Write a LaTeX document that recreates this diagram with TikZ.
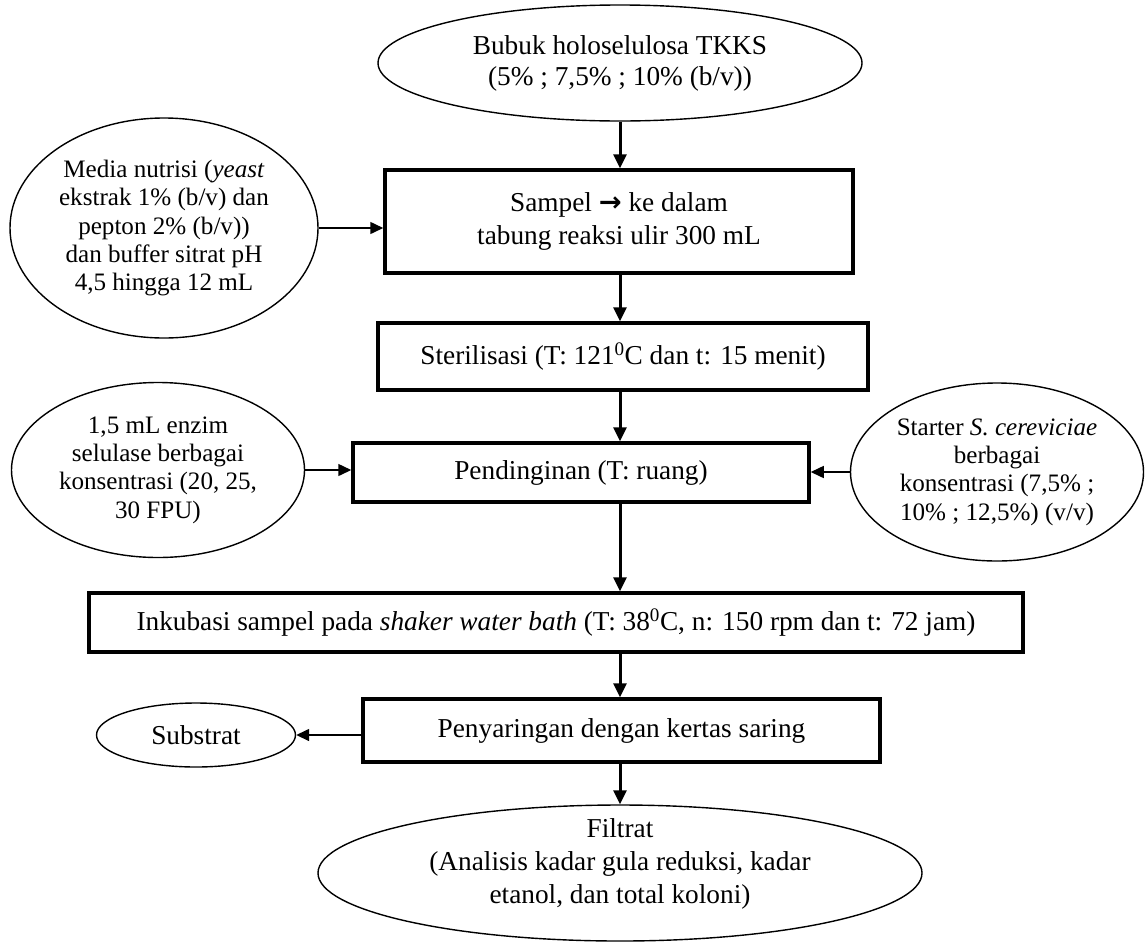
\documentclass[tikz,border=0pt]{standalone}
\usepackage{fontspec}
\setmainfont{Liberation Serif}
\newfontfamily\arrowfont{DejaVu Sans}
\usetikzlibrary{shapes.geometric,arrows.meta,calc}

\tikzset{
  big/.style={font=\fontsize{27.3}{31}\selectfont},
  small/.style={font=\fontsize{25.1}{28.3}\selectfont},
  stepbox/.style={draw, line width=3.5pt, inner sep=0pt, align=center, big},
  oval/.style={draw, ellipse, line width=1.4pt, inner sep=0pt, align=center},
  flow/.style={line width=3pt, -{Triangle[length=14pt,width=13pt]}},
  side/.style={line width=1.5pt, -{Triangle[length=13pt,width=12pt]}},
}

\begin{document}
\begin{tikzpicture}[x=1pt,y=-1pt]
\useasboundingbox (0,0) rectangle (1145,943);

% main column
\coordinate (col) at (620,0);

\node[oval, big, minimum width=484pt, minimum height=116pt] (bubuk) at (620,63)
  {Bubuk holoselulosa TKKS\\(5\% ; 7,5\% ; 10\% (b/v))};

\node[stepbox, minimum width=468pt, minimum height=103pt, font=\fontsize{27.3}{33}\selectfont] (sampel) at (619,221.5)
  {Sampel {\arrowfont\bfseries →} ke dalam\\tabung reaksi ulir 300 mL};

\node[oval, small, minimum width=308pt, minimum height=220pt] (media) at (164,228)
  {Media nutrisi (\textit{yeast}\\ekstrak 1\% (b/v) dan\\pepton 2\% (b/v))\\dan buffer sitrat pH\\4,5 hingga 12 mL};

\node[stepbox, minimum width=490pt, minimum height=67pt] (steril) at (623,356.5)
  {Sterilisasi (T: 121\textsuperscript{0}C dan t: 15 menit)};

\node[stepbox, minimum width=456pt, minimum height=59pt] (dingin) at (581,472.5)
  {Pendinginan (T: ruang)};

\node[oval, small, minimum width=293pt, minimum height=175pt] (enzim) at (158,470)
  {1,5 mL enzim\\selulase berbagai\\konsentrasi (20, 25,\\30 FPU)};

\node[oval, small, minimum width=293pt, minimum height=178pt] (starter) at (997,472)
  {Starter \textit{S. cereviciae}\\berbagai\\konsentrasi (7,5\% ;\\10\% ; 12,5\%) (v/v)};

\node[stepbox, minimum width=934pt, minimum height=59pt] (inkubasi) at (556,622.5)
  {Inkubasi sampel pada \textit{shaker water bath} (T: 38\textsuperscript{0}C, n: 150 rpm dan t: 72 jam)};

\node[stepbox, minimum width=517pt, minimum height=63pt] (saring) at (621.5,730.5)
  {Penyaringan dengan kertas saring};

\node[oval, big, minimum width=199pt, minimum height=64pt] (substrat) at (196,735)
  {Substrat};

% final product: the text sits a little above the ellipse centre
\node[oval, minimum width=604pt, minimum height=136pt] (filtrat) at (620,873) {};
\node[align=center, inner sep=0pt, font=\fontsize{27.3}{33}\selectfont] (filtratlabel)
  at ($(filtrat.center)+(0,-9)$)
  {Filtrat\\(Analisis kadar gula reduksi, kadar\\etanol, dan total koloni)};

% vertical flow
\draw[flow] (bubuk.south) -- (col |- sampel.north);
\draw[flow] (col |- sampel.south) -- (col |- steril.north);
\draw[flow] (col |- steril.south) -- (col |- dingin.north);
\draw[flow] (col |- dingin.south) -- (col |- inkubasi.north);
\draw[flow] (col |- inkubasi.south) -- (col |- saring.north);
\draw[flow] (col |- saring.south) -- (filtrat.north);

% side inputs and output
\draw[side] (media.east) -- (media.east -| sampel.west);
\draw[side] (enzim.east) -- (enzim.east -| dingin.west);
\draw[side] (starter.west) -- (starter.west -| dingin.east);
\draw[side] (saring.west |- substrat.east) -- (substrat.east);
\end{tikzpicture}
\end{document}
